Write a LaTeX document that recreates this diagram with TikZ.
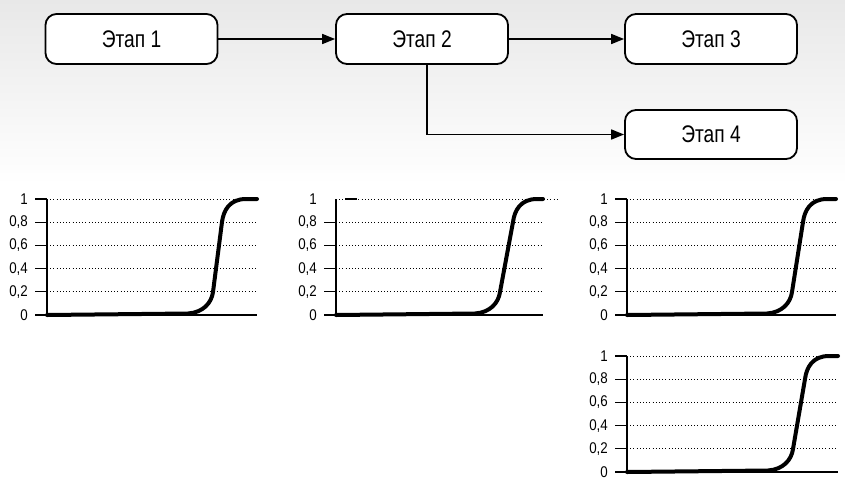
\documentclass[tikz,border=0pt]{standalone}
\usepackage{fontspec}
\setmainfont{Liberation Sans}[FakeStretch=0.86]
\newfontfamily\boxfont{Liberation Sans}[FakeStretch=0.8]
\usetikzlibrary{arrows.meta}
\tikzset{
  stagebox/.style={draw=black, line width=1.8pt, fill=white, rounded corners=11pt,
    minimum width=172pt, minimum height=50pt, inner sep=0pt,
    font=\boxfont\fontsize{24}{28}\selectfont},
  conn/.style={line width=1.7pt, -{Triangle[length=13pt,width=10pt]}},
  gridln/.style={line width=0.9pt, dash pattern=on 1pt off 2.2pt},
  tickln/.style={line width=1.3pt},
  axisln/.style={line width=1.6pt},
  baseln/.style={line width=1.3pt},
  curveln/.style={line width=4pt, line cap=round, line join=round},
  lbl/.style={anchor=east, inner sep=0pt, font=\fontsize{15.5}{18}\selectfont}
}
\newcommand\mychart[6]{% #1 id, #2 ax, #3 zy, #4 x2, #5 x8, #6 xend
  \foreach \k in {1,...,4}{
    \draw[gridln] (#2,#3-23.2*\k) -- (#6,#3-23.2*\k);
    \draw[tickln] (#2-12,#3-23.2*\k) -- (#2,#3-23.2*\k);
    \node[lbl] (#1l\k) at (#2-19,#3-23.2*\k) {0,\the\numexpr2*\k\relax};
  }
  \node[lbl] (#1l0) at (#2-19,#3) {0};
  \node[lbl] (#1l5) at (#2-19,#3-116) {1};
  \draw[axisln] (#2,#3) -- (#2,#3-116);
  \draw[baseln] (#2-12,#3) -- (#6,#3);
  \draw[curveln] (#2,#3) -- (#4-25,#3-1.5) .. controls (#4-10,#3-2.5) and (#4-1.5,#3-12) .. (#4,#3-23) -- (#5,#3-93) .. controls (#5+1.5,#3-104) and (#5+7,#3-116) .. (#5+24,#3-116) -- (#6,#3-116);
}
\begin{document}
\begin{tikzpicture}[x=1pt,y=-1pt]
\useasboundingbox (0,0) rectangle (845,477);
\fill[white] (0,0) rectangle (845,477);
\shade[top color=black!9, bottom color=white] (0,0) rectangle (845,185);

% stages
\node[stagebox] (s1) at (131.5,39) {Этап 1};
\node[stagebox] (s2) at (422,39) {Этап 2};
\node[stagebox] (s3) at (711,39) {Этап 3};
\node[stagebox, minimum height=49pt] (s4) at (711,134.5) {Этап 4};
\coordinate (br) at (427,64);

\draw[conn] (s1.east) -- (s2.west);
\draw[conn] (s2.east) -- (s3.west);
\draw[conn] (br) |- (s4.west);

% top gridlines drawn first
\draw[gridln] (47,199) -- (257,199);
\draw[gridln] (336,199) -- (557,199);
\draw[gridln] (627,199) -- (837,199);
\draw[gridln] (627,356) -- (838,356);

\mychart{a}{47}{315}{213}{222}{257}
\draw[tickln] (35,199) -- (47,199);

\mychart{b}{336}{315}{500}{513}{543}
\draw[tickln] (345,199) -- (357,199);

\mychart{c}{627}{315}{792}{803}{836}
\draw[tickln] (615,199) -- (627,199);

\mychart{d}{627}{472}{793}{805}{838}
\draw[tickln] (615,356) -- (627,356);
\end{tikzpicture}
\end{document}
